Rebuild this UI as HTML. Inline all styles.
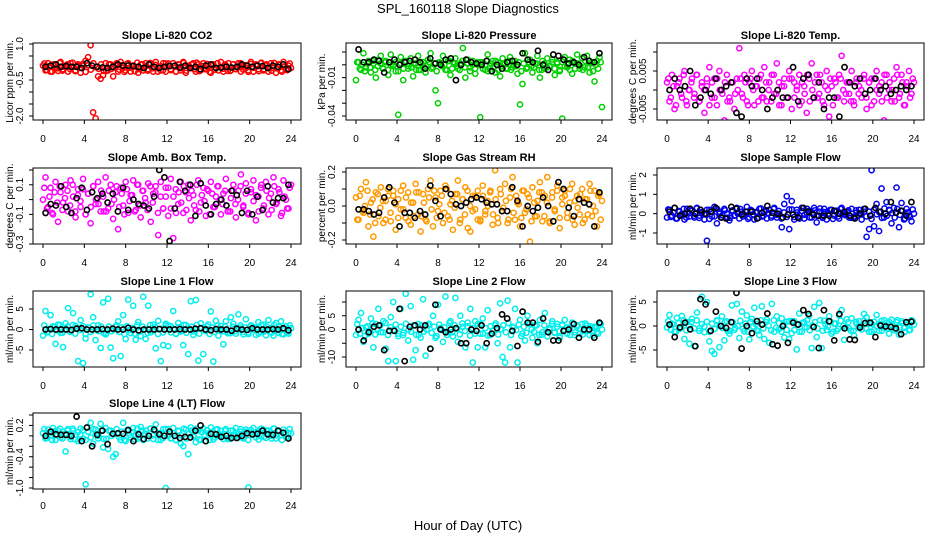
<!DOCTYPE html>
<html><head><meta charset="utf-8"><style>
body{margin:0;background:#fff}
svg{display:block;font-family:"Liberation Sans",sans-serif}
</style></head><body>
<svg id="c" width="936" height="540" viewBox="0 0 936 540" xmlns="http://www.w3.org/2000/svg">
<rect width="936" height="540" fill="#fff"/>
<text x="468" y="13" text-anchor="middle" font-size="13">SPL_160118  Slope Diagnostics</text>
<text x="468" y="530" text-anchor="middle" font-size="13">Hour of Day (UTC)</text>
</svg>
<script>
const xTicks=[0,4,8,12,16,20,24];
const p1c=[0.1,-0.1,0.2,-0.15,0.15,0.0,-0.12,0.25,-0.05,0.1,-0.15,0.2,0.05,-0.1,0.15,-0.2,0.1,0.3,0.45,0.95,-1.85,-2.1,-0.35,-0.45,-0.3,0.2,-0.1,0.15,-0.35,0.1,-0.15,0.25,0.0,-0.1,0.2,-0.15,0.1,0.05,-0.2,0.15,-0.1,0.2,-0.05,0.15,-0.15,0.25,0.0,-0.1,0.2,-0.15,0.1,-0.05,0.2,-0.15,0.15,-0.1,0.25,-0.2,0.1,0.0,0.2,-0.15,0.15,-0.1,0.2,-0.05,0.1,-0.2,0.15,0.0,-0.1,0.25,-0.15,0.1,0.2,-0.1,0.15,-0.05,0.2,-0.15,0.1,0.0,-0.1,0.25,-0.15,0.15,-0.05,0.2,-0.1,0.1,-0.15,0.2,0.0,-0.2,0.15,-0.1,0.25,-0.05,0.1,0.0];
const p1b=[0.19,-0.09,0.07,-0.15,0.13,-0.01,0.21,-0.11,0.05,0.15,-0.05,0.22,-0.13,0.09,0.01,0.17,-0.16,0.11,-0.07,0.2,0.03,-0.03,0.15,-0.12,-0.12,0.15,-0.03,0.03,0.2,-0.07,0.11,-0.16,0.17,0.01,0.09,-0.13,0.22,-0.05,0.15,0.05,-0.11,0.21,-0.01,0.13,-0.15,0.07,-0.09,0.19,0.19,-0.09,0.07,-0.15,0.13,-0.01,0.21,-0.11,0.05,0.15,-0.05,0.22,-0.13,0.09,0.01,0.17,-0.16,0.11,-0.07,0.2,0.03,-0.03,0.15,-0.12,-0.12,0.15,-0.03,0.03,0.2,-0.07,0.11,-0.16,0.17,0.01,0.09,-0.13,0.22,-0.05,0.15,0.05,-0.11,0.21,-0.01,0.13,-0.15,0.07,-0.09,0.19];
const p1k=[0.05,0.1,0.15,0.05,0.08,0.05,0.05,0.0,0.2,0.1,0.05,0.02,0.0,0.05,0.15,0.1,0.1,0.08,0.05,0.0,0.15,0.05,0.0,0.05,0.08,0.1,0.02,0.1,0.0,0.05,-0.05,0.1,0.15,0.0,0.02,0.05,0.02,0.05,0.15,0.1,0.05,0.1,0.08,0.0,0.1,0.05,0.15,-0.05];
const p2c=[-0.012,0.002,-0.004,0.009,-0.002,0.003,-0.006,0.001,-0.01,0.004,0.007,-0.003,0.002,-0.008,0.008,0.0,-0.005,-0.039,0.006,-0.012,0.003,-0.003,0.005,-0.009,0.001,0.007,-0.004,0.002,-0.006,0.004,0.009,-0.002,-0.02,-0.03,0.001,0.007,-0.004,0.003,-0.008,0.002,0.005,-0.003,0.001,0.013,-0.01,0.004,-0.002,0.003,-0.007,0.0,-0.041,0.002,-0.004,0.008,-0.001,0.003,-0.006,0.002,-0.009,0.005,0.001,-0.003,0.006,-0.002,0.003,-0.007,-0.031,-0.015,0.009,-0.002,0.004,-0.006,0.001,0.007,-0.01,0.003,-0.003,0.005,-0.001,0.004,-0.008,0.002,-0.004,-0.042,0.006,-0.002,0.004,-0.007,0.001,0.008,-0.003,0.005,-0.002,0.007,-0.006,0.002,-0.013,0.003,0.006,-0.033];
const p2b=[0.002,-0.003,0.0,-0.005,0.001,-0.002,0.003,-0.004,-0.001,0.001,-0.003,0.003,-0.004,0.0,-0.001,0.002,-0.005,0.001,-0.003,0.002,-0.001,-0.002,0.001,-0.004,-0.004,0.001,-0.002,-0.001,0.002,-0.003,0.001,-0.005,0.002,-0.001,0.0,-0.004,0.003,-0.003,0.001,-0.001,-0.004,0.003,-0.002,0.001,-0.005,0.0,-0.003,0.002,0.002,-0.003,0.0,-0.005,0.001,-0.002,0.003,-0.004,-0.001,0.001,-0.003,0.003,-0.004,0.0,-0.001,0.002,-0.005,0.001,-0.003,0.002,-0.001,-0.002,0.001,-0.004,-0.004,0.001,-0.002,-0.001,0.002,-0.003,0.001,-0.005,0.002,-0.001,0.0,-0.004,0.003,-0.003,0.001,-0.001,-0.004,0.003,-0.002,0.001,-0.005,0.0,-0.003,0.002];
const p2k=[0.012,0.002,0.002,0.004,0.003,-0.006,0.002,0.004,0.0,0.002,0.003,0.004,0.002,-0.003,0.005,0.001,0.0,0.004,0.005,-0.012,0.0,0.004,0.002,0.001,0.0,0.003,-0.005,0.0,-0.003,0.002,0.003,0.0,0.009,0.004,0.002,0.011,0.0,-0.004,0.008,0.007,0.004,0.001,0.002,0.0,0.006,0.003,0.002,0.009];
const p3c=[0.002,-0.003,0.004,-0.005,0.001,0.003,-0.002,0.005,-0.004,0.0,0.003,-0.001,0.004,-0.003,0.002,-0.006,0.001,0.006,-0.002,0.003,-0.004,0.005,0.0,-0.008,0.004,-0.002,0.002,-0.005,0.003,0.011,-0.001,0.004,-0.003,0.002,0.005,-0.004,0.001,0.003,-0.002,0.006,-0.003,0.002,0.004,-0.001,0.007,-0.004,0.001,0.003,-0.002,0.005,-0.005,0.002,0.0,0.004,-0.003,0.001,-0.006,0.003,0.007,-0.002,0.004,-0.001,0.002,-0.004,0.005,-0.007,0.001,0.003,-0.002,0.004,0.009,-0.003,0.002,-0.001,0.005,-0.004,0.003,0.001,-0.002,0.004,-0.005,0.002,0.003,-0.003,0.005,-0.001,0.002,-0.008,0.004,0.0,-0.003,0.003,0.006,-0.002,0.004,-0.004,0.002,0.005,-0.001,0.002];
const p3b=[0.003,-0.002,0.001,-0.004,0.002,-0.001,0.004,-0.003,0.0,0.002,-0.002,0.004,-0.003,0.001,0.0,0.003,-0.004,0.002,-0.002,0.003,0.0,-0.001,0.002,-0.003,-0.003,0.002,-0.001,0.0,0.003,-0.002,0.002,-0.004,0.003,0.0,0.001,-0.003,0.004,-0.002,0.002,0.0,-0.003,0.004,-0.001,0.002,-0.004,0.001,-0.002,0.003,0.003,-0.002,0.001,-0.004,0.002,-0.001,0.004,-0.003,0.0,0.002,-0.002,0.004,-0.003,0.001,0.0,0.003,-0.004,0.002,-0.002,0.003,0.0,-0.001,0.002,-0.003,-0.003,0.002,-0.001,0.0,0.003,-0.002,0.002,-0.004,0.003,0.0,0.001,-0.003,0.004,-0.002,0.002,0.0,-0.003,0.004,-0.001,0.002,-0.004,0.001,-0.002,0.003];
const p3k=[0.0,0.003,0.0,0.001,0.005,-0.004,-0.002,0.0,-0.001,0.003,0.0,0.001,0.002,-0.006,-0.007,0.003,0.001,0.003,0.0,-0.005,-0.002,0.0,-0.002,-0.002,0.006,-0.003,0.003,0.004,-0.002,0.002,-0.005,-0.002,-0.002,-0.007,0.006,0.002,0.001,0.003,-0.001,0.0,0.003,0.0,0.001,-0.001,0.0,0.001,0.0,0.001];
const p4c=[0.0,0.15,-0.05,0.08,-0.1,0.12,-0.15,0.05,-0.02,0.1,-0.08,0.13,0.02,-0.12,0.07,-0.05,0.14,-0.1,0.04,-0.16,0.09,-0.03,0.12,-0.08,0.02,0.15,-0.06,0.1,-0.13,0.05,-0.2,0.08,-0.04,0.12,-0.09,0.03,0.13,-0.07,0.1,-0.12,0.06,-0.02,0.11,-0.15,0.04,0.09,-0.24,0.12,-0.06,0.02,-0.11,0.14,-0.26,0.07,-0.03,0.12,-0.09,0.05,0.1,-0.14,0.03,-0.07,0.13,-0.02,0.08,-0.11,0.06,0.12,-0.05,0.02,0.09,-0.1,0.04,0.14,-0.08,0.01,0.1,-0.12,0.06,0.17,-0.04,0.11,-0.09,0.05,0.13,-0.14,0.02,0.08,-0.06,0.12,-0.1,0.04,0.15,-0.03,0.07,-0.11,0.13,0.0,-0.06,0.1];
const p4b=[0.08,-0.06,0.02,-0.09,0.05,-0.02,0.09,-0.07,0.01,0.06,-0.04,0.1,-0.08,0.03,-0.01,0.07,-0.1,0.04,-0.05,0.09,0.0,-0.03,0.06,-0.08,-0.08,0.06,-0.03,0.0,0.09,-0.05,0.04,-0.1,0.07,-0.01,0.03,-0.08,0.1,-0.04,0.06,0.01,-0.07,0.09,-0.02,0.05,-0.09,0.02,-0.06,0.08,0.08,-0.06,0.02,-0.09,0.05,-0.02,0.09,-0.07,0.01,0.06,-0.04,0.1,-0.08,0.03,-0.01,0.07,-0.1,0.04,-0.05,0.09,0.0,-0.03,0.06,-0.08,-0.08,0.06,-0.03,0.0,0.09,-0.05,0.04,-0.1,0.07,-0.01,0.03,-0.08,0.1,-0.04,0.06,0.01,-0.07,0.09,-0.02,0.05,-0.09,0.02,-0.06,0.08];
const p4k=[-0.09,-0.03,-0.04,0.09,-0.05,-0.09,0.01,0.08,-0.07,0.05,0.01,0.04,-0.02,0.04,-0.08,0.08,-0.07,0.0,-0.03,-0.04,-0.06,0.02,0.2,0.15,-0.28,-0.06,0.12,0.06,0.1,-0.11,0.11,-0.04,-0.1,-0.03,0.0,-0.04,0.06,0.03,-0.09,0.06,-0.1,0.02,-0.07,0.09,-0.02,0.01,0.01,0.1];
const p5c=[0.05,-0.08,0.1,-0.04,0.14,-0.12,0.02,-0.18,0.08,-0.06,0.11,-0.1,0.03,0.06,-0.09,0.09,-0.14,0.04,-0.02,0.12,-0.07,0.08,-0.11,0.02,0.13,-0.05,-0.15,0.07,-0.08,0.1,0.15,-0.12,0.05,-0.03,0.09,-0.1,0.12,-0.06,0.01,-0.14,0.07,0.15,-0.08,0.04,0.11,-0.13,-0.15,0.06,-0.02,0.09,-0.09,0.12,-0.05,0.03,0.08,-0.11,0.21,-0.07,0.1,-0.03,0.13,-0.1,0.05,0.17,-0.08,0.02,-0.12,0.09,-0.04,0.07,-0.21,0.11,-0.06,0.03,0.14,-0.09,0.06,0.17,-0.1,0.08,-0.03,0.12,-0.13,0.05,0.09,-0.07,0.02,0.13,-0.11,0.06,-0.05,0.1,-0.08,0.04,0.13,-0.06,0.09,-0.12,0.07,0.03];
const p5b=[-0.08,0.06,-0.03,0.0,0.09,-0.05,0.04,-0.1,0.07,-0.01,0.03,-0.08,0.1,-0.04,0.06,0.01,-0.07,0.09,-0.02,0.05,-0.09,0.02,-0.06,0.08,0.08,-0.06,0.02,-0.09,0.05,-0.02,0.09,-0.07,0.01,0.06,-0.04,0.1,-0.08,0.03,-0.01,0.07,-0.1,0.04,-0.05,0.09,0.0,-0.03,0.06,-0.08,-0.08,0.06,-0.03,0.0,0.09,-0.05,0.04,-0.1,0.07,-0.01,0.03,-0.08,0.1,-0.04,0.06,0.01,-0.07,0.09,-0.02,0.05,-0.09,0.02,-0.06,0.08,0.08,-0.06,0.02,-0.09,0.05,-0.02,0.09,-0.07,0.01,0.06,-0.04,0.1,-0.08,0.03,-0.01,0.07,-0.1,0.04,-0.05,0.09,0.0,-0.03,0.06,-0.08];
const p5k=[-0.02,-0.02,-0.03,-0.05,-0.04,0.05,0.11,0.02,-0.12,-0.04,-0.04,-0.07,-0.03,-0.05,0.12,0.03,-0.06,0.1,0.07,0.01,0.0,0.02,0.04,0.05,0.04,0.02,0.01,0.01,-0.03,-0.03,0.11,0.03,-0.12,0.0,-0.03,-0.01,0.05,0.0,-0.09,0.14,0.1,-0.01,-0.06,0.04,0.02,0.01,-0.12,0.08];
const p6c=[-0.2,0.2,-0.1,0.3,-0.25,0.1,0.0,-0.3,0.25,-0.15,0.15,-0.2,0.3,-0.1,0.05,-0.3,-1.4,0.2,-0.15,0.35,-0.5,0.1,-0.2,0.25,0.0,-0.35,0.15,-0.1,0.3,-0.25,0.1,-0.05,0.35,-0.2,0.15,-0.3,0.05,0.25,-0.15,0.1,-0.25,0.2,-0.1,0.3,-0.2,0.0,-0.7,0.5,0.9,-0.8,0.65,-0.3,0.2,-0.1,0.3,-0.25,0.05,0.15,-0.2,0.3,-0.45,0.1,-0.15,0.25,-0.3,0.0,0.2,-0.1,0.15,-0.25,0.3,-0.05,0.1,-0.2,0.25,-0.15,0.05,0.2,-0.3,0.1,-1.2,-0.8,2.25,-0.65,0.5,-0.9,1.3,-0.2,0.6,0.2,-0.5,0.3,1.35,-0.7,0.55,-0.3,0.25,-0.1,-0.4,0.0];
const p6b=[0.22,-0.17,0.06,-0.25,0.14,-0.06,0.25,-0.2,0.03,0.17,-0.11,0.27,-0.22,0.08,-0.03,0.2,-0.27,0.11,-0.14,0.24,0.0,-0.08,0.17,-0.21,-0.21,0.17,-0.08,0.0,0.24,-0.14,0.11,-0.27,0.2,-0.03,0.08,-0.22,0.27,-0.11,0.17,0.03,-0.2,0.25,-0.06,0.14,-0.25,0.06,-0.17,0.22,0.22,-0.17,0.06,-0.25,0.14,-0.06,0.25,-0.2,0.03,0.17,-0.11,0.27,-0.22,0.08,-0.03,0.2,-0.27,0.11,-0.14,0.24,0.0,-0.08,0.17,-0.21,-0.21,0.17,-0.08,0.0,0.24,-0.14,0.11,-0.27,0.2,-0.03,0.08,-0.22,0.27,-0.11,0.17,0.03,-0.2,0.25,-0.06,0.14,-0.25,0.06,-0.17,0.22];
const p6k=[0.1,0.3,-0.1,0.0,0.25,0.0,0.2,0.0,0.1,0.3,-0.2,-0.25,0.35,0.25,-0.05,0.1,0.1,-0.25,0.05,0.4,0.05,0.0,-0.2,-0.05,-0.05,-0.2,0.3,0.1,-0.05,-0.1,-0.1,-0.1,0.15,0.0,0.1,-0.1,-0.25,0.0,0.25,-0.1,0.3,0.1,0.0,0.6,0.05,0.15,-0.1,0.6];
const p7c=[-1.5,4.5,-0.5,3.5,0.8,-3.5,1.2,-0.8,-4.3,1.5,5.2,-0.6,4.0,0.9,-7.7,2.3,-8.2,-2.2,0.5,8.6,3.0,-2.6,1.0,-4.5,6.6,-1.2,7.5,-4.4,-7.0,0.7,2.0,-6.5,3.5,-2.3,7.3,-0.9,5.8,-2.5,1.8,-1.6,8.0,-2.3,5.8,-0.7,1.2,-4.6,2.1,-7.7,-3.8,1.4,-4.1,0.8,4.5,-1.0,1.6,-0.5,-3.8,1.1,-6.0,6.9,-1.3,7.2,-7.6,1.5,-6.0,-0.4,1.2,4.4,-7.8,2.1,-1.5,0.9,-3.6,2.0,-0.8,3.0,1.4,-1.0,3.7,0.5,-1.2,2.5,-0.7,1.0,0.6,-1.3,1.8,-0.6,1.2,-1.4,2.3,0.4,-1.5,1.6,-0.8,2.0,-1.2,0.8,-1.0,0.3];
const p7b=[1.0,-0.7,0.2,-1.1,0.6,-0.2,1.1,-0.8,0.1,0.7,-0.5,1.1,-1.0,0.4,-0.1,0.8,-1.1,0.5,-0.6,1.0,0.0,-0.4,0.7,-0.9,-0.9,0.7,-0.4,0.0,1.0,-0.6,0.5,-1.1,0.8,-0.1,0.4,-1.0,1.1,-0.5,0.7,0.1,-0.8,1.1,-0.2,0.6,-1.1,0.2,-0.7,1.0,1.0,-0.7,0.2,-1.1,0.6,-0.2,1.1,-0.8,0.1,0.7,-0.5,1.1,-1.0,0.4,-0.1,0.8,-1.1,0.5,-0.6,1.0,0.0,-0.4,0.7,-0.9,-0.9,0.7,-0.4,0.0,1.0,-0.6,0.5,-1.1,0.8,-0.1,0.4,-1.0,1.1,-0.5,0.7,0.1,-0.8,1.1,-0.2,0.6,-1.1,0.2,-0.7,1.0];
const p7k=[0,0.1,0,0,0,-0.1,0.2,0.3,0,0,0,0.1,0,0.2,0,0,0.4,0,-0.2,0,0,0,0.1,0,0,0,0.1,0,0,0.2,0.3,0,-0.2,0.1,0,0,-0.3,0.2,0,-0.1,0.3,0,0,0,0.1,0,0.3,-0.2];
const p8c=[-2.0,3.5,6.0,-4.5,0.8,-1.5,4.0,-6.5,2.0,7.5,-1.0,3.0,-7.0,-11.5,4.5,10.0,-11.5,-1.5,7.5,-2.0,13.0,-4.0,8.5,-11.0,-7.5,2.0,-3.0,11.0,-9.5,1.5,-7.0,5.0,-3.0,9.0,0.5,-4.5,12.0,-1.0,3.0,-2.5,11.5,-4.5,5.0,1.0,-6.5,2.5,7.5,-12.0,3.0,-6.5,-1.5,4.0,-6.5,7.0,-2.0,-0.5,1.5,-5.0,9.5,-10.0,-12.0,10.5,-6.5,1.0,7.5,-12.0,3.5,-1.5,-4.0,5.0,2.0,-3.0,1.5,-5.0,3.5,-1.0,6.0,-2.5,0.5,3.0,-1.0,2.0,-3.0,1.5,3.5,-1.5,0.5,2.5,-2.0,1.0,-1.5,2.0,-0.5,1.5,-2.0,0.5,1.0,-1.0,2.0,0.0];
const p8b=[2.0,-1.5,0.5,-2.2,1.2,-0.5,2.2,-1.8,0.2,1.5,-1.0,2.4,-2.0,0.8,-0.2,1.8,-2.4,1.0,-1.2,2.1,0.0,-0.8,1.5,-1.9,-1.9,1.5,-0.8,0.0,2.1,-1.2,1.0,-2.4,1.8,-0.2,0.8,-2.0,2.4,-1.0,1.5,0.2,-1.8,2.2,-0.5,1.2,-2.2,0.5,-1.5,2.0,2.0,-1.5,0.5,-2.2,1.2,-0.5,2.2,-1.8,0.2,1.5,-1.0,2.4,-2.0,0.8,-0.2,1.8,-2.4,1.0,-1.2,2.1,0.0,-0.8,1.5,-1.9,-1.9,1.5,-0.8,0.0,2.1,-1.2,1.0,-2.4,1.8,-0.2,0.8,-2.0,2.4,-1.0,1.5,0.2,-1.8,2.2,-0.5,1.2,-2.2,0.5,-1.5,2.0];
const p8k=[0,-4,-1,1,1.5,-7.5,-0.5,-0.5,7.5,-11.5,1,1.5,0,1.5,-7,9,0,-1,0,0.5,-5,-5,0,-0.5,1.5,-5,-1.5,0.5,5.5,4,-0.5,-6,6.5,2.5,2.5,-4.5,4,-1,-4,-4,-0.5,0,2,-3,0,0,-3,2.5];
const p9c=[-0.3,2.3,0.5,-1.2,1.7,-0.6,2.1,-2.7,0.8,-3.7,1.5,-4.2,2.8,-0.5,6.1,-1.3,5.0,-3.2,-5.2,-5.8,1.2,-4.4,2.0,-3.0,1.0,-1.6,4.3,-0.8,4.6,-2.5,3.0,-1.1,2.2,-2.8,1.5,3.8,-0.9,-1.9,4.1,-2.7,1.3,-3.5,4.6,-1.2,2.0,-0.6,1.6,-2.4,0.9,-2.7,-1.5,1.0,-4.9,2.6,-1.2,0.8,-0.3,2.1,-4.6,4.0,-2.3,4.8,-4.6,1.1,-0.8,2.0,-1.6,0.5,-1.0,2.2,3.3,-2.9,1.4,-0.5,1.6,-2.0,0.4,1.0,-0.7,2.5,1.8,-1.2,0.5,-0.8,2.3,-1.0,1.1,-0.3,0.7,-1.6,1.3,-0.5,0.8,-1.8,1.0,-0.4,0.6,-0.9,1.2,0.3];
const p9b=[1.0,-0.8,0.3,-1.2,0.6,-0.3,1.2,-0.9,0.1,0.8,-0.5,1.2,-1.0,0.4,-0.1,0.9,-1.2,0.5,-0.6,1.1,0.0,-0.4,0.8,-1.0,-1.0,0.8,-0.4,0.0,1.1,-0.6,0.5,-1.2,0.9,-0.1,0.4,-1.0,1.2,-0.5,0.8,0.1,-0.9,1.2,-0.3,0.6,-1.2,0.3,-0.8,1.0,1.0,-0.8,0.3,-1.2,0.6,-0.3,1.2,-0.9,0.1,0.8,-0.5,1.2,-1.0,0.4,-0.1,0.9,-1.2,0.5,-0.6,1.1,0.0,-0.4,0.8,-1.0,-1.0,0.8,-0.4,0.0,1.1,-0.6,0.5,-1.2,0.9,-0.1,0.4,-1.0,1.2,-0.5,0.8,0.1,-0.9,1.2,-0.3,0.6,-1.2,0.3,-0.8,1.0];
const p9k=[0.3,-2.3,-0.3,0.7,-0.7,-4.2,5.6,4.5,-1.0,3.0,0,-0.4,0.8,6.9,-4.7,0,-1.5,1.0,0.3,2.6,-3.8,-4.1,0,-3.5,0.7,0.3,3.3,2.5,-0.2,-4.6,3.3,1.0,-3.0,2.5,-0.5,-2.8,-2.9,-0.3,0.6,0.7,-2.3,0.1,-0.1,-0.2,-0.5,-1.7,0.8,0.9];
const p10c=[0.05,-0.05,0.12,0.0,0.15,-0.08,0.1,-0.03,0.08,-0.3,0.13,-0.06,0.1,0.02,-0.1,0.14,-0.05,-0.93,0.08,0.25,-0.15,0.12,-0.05,0.23,-0.22,0.15,-0.25,0.1,-0.4,-0.35,0.05,-0.08,0.25,-0.1,0.12,-0.03,0.15,0.02,-0.05,0.17,-0.08,0.1,0.0,0.14,-0.06,0.22,0.05,-0.08,0.13,-1.0,0.0,-0.05,0.15,-0.08,0.1,-0.15,-0.2,0.12,-0.35,0.16,0.0,-0.12,0.1,-0.08,0.14,-0.1,0.05,0.16,-0.07,0.12,0.0,0.1,-0.06,0.13,-0.04,0.1,0.02,0.15,-0.03,0.08,-0.05,0.12,-0.99,0.06,0.15,-0.03,0.1,0.0,0.12,-0.04,0.1,0.0,0.14,-0.05,0.08,0.02,0.12,-0.03,0.06,0.05];
const p10b=[0.13,-0.04,0.05,-0.08,0.09,0.01,0.14,-0.05,0.04,0.1,-0.02,0.14,-0.07,0.07,0.02,0.11,-0.08,0.08,-0.03,0.13,0.03,0.0,0.1,-0.06,-0.06,0.1,0.0,0.03,0.13,-0.03,0.08,-0.08,0.11,0.02,0.07,-0.07,0.14,-0.02,0.1,0.04,-0.05,0.14,0.01,0.09,-0.08,0.05,-0.04,0.13,0.13,-0.04,0.05,-0.08,0.09,0.01,0.14,-0.05,0.04,0.1,-0.02,0.14,-0.07,0.07,0.02,0.11,-0.08,0.08,-0.03,0.13,0.03,0.0,0.1,-0.06,-0.06,0.1,0.0,0.03,0.13,-0.03,0.08,-0.08,0.11,0.02,0.07,-0.07,0.14,-0.02,0.1,0.04,-0.05,0.14,0.01,0.09,-0.08,0.05,-0.04,0.13];
const p10k=[0.0,0.08,0.03,0.02,0.02,0.0,0.37,-0.1,0.16,-0.2,0.02,0.1,-0.16,0.04,0.05,0.04,0.11,-0.1,0.03,-0.06,0.0,0.12,0.03,0.0,0.08,0.0,-0.04,-0.02,-0.03,0.1,0.2,-0.1,0.04,0.03,-0.02,0.0,-0.04,-0.04,0.0,0.05,0.03,0.04,0.1,0.03,0.02,0.1,0.06,-0.05];

const NS="http://www.w3.org/2000/svg";
const svg=document.getElementById('c');
function el(tag,at,parent,txt){const e=document.createElementNS(NS,tag);for(const k in at)e.setAttribute(k,at[k]);if(txt!==undefined)e.textContent=txt;(parent||svg).appendChild(e);return e;}
const cols=[{x0:43,x1:291,yl:9,tl:19},{x0:356,x1:602,yl:321,tl:331},{x0:667,x1:914,yl:632,tl:642}];
const rows=[{top:43,bot:120,title:35,xl:138},{top:168,bot:244,title:157,xl:262},{top:291,bot:367,title:281,xl:385},{top:413,bot:489,title:403,xl:505}];
const panels=[
 {id:'li820-co2',t:'Slope Li-820 CO2',yl:'Licor ppm per min.',c:0,r:0,v0:1,p0:44,v1:-2,p1:116,ticks:[1,0.5,0,-0.5,-1,-1.5,-2],labs:{'1':'1.0','-0.5':'-0.5','-2':'-2.0'},col:'#ff0000',d:p1c,b:p1b,k:p1k},
 {id:'li820-pressure',t:'Slope Li-820 Pressure',yl:'kPa per min.',c:1,r:0,v0:0.01,p0:52,v1:-0.04,p1:116,ticks:[0.01,0,-0.01,-0.02,-0.03,-0.04],labs:{'-0.01':'-0.01','-0.04':'-0.04'},col:'#00d000',d:p2c,b:p2b,k:p2k},
 {id:'li820-temp',t:'Slope Li-820 Temp.',yl:'degrees C per min.',c:2,r:0,v0:0.01,p0:52,v1:-0.005,p1:109,ticks:[0.01,0.005,0,-0.005],labs:{'0.005':'0.005','-0.005':'-0.005'},col:'#ff00ff',d:p3c,b:p3b,k:p3k},
 {id:'amb-box-temp',t:'Slope Amb. Box Temp.',yl:'degrees C per min.',c:0,r:1,v0:0.2,p0:170,v1:-0.3,p1:244,ticks:[0.2,0.1,0,-0.1,-0.2,-0.3],labs:{'0.1':'0.1','-0.1':'-0.1','-0.3':'-0.3'},col:'#ff00ff',d:p4c,b:p4b,k:p4k},
 {id:'gas-stream-rh',t:'Slope Gas Stream RH',yl:'percent per min.',c:1,r:1,v0:0.2,p0:172,v1:-0.2,p1:240,ticks:[0.2,0.1,0,-0.1,-0.2],labs:{'0.2':'0.2','0':'0.0','-0.2':'-0.2'},col:'#ff9900',d:p5c,b:p5b,k:p5k},
 {id:'sample-flow',t:'Slope Sample Flow',yl:'ml/min per min.',c:2,r:1,v0:2,p0:175,v1:-1,p1:233,ticks:[2,1,0,-1],labs:{'2':'2','1':'1','0':'0','-1':'-1'},col:'#0000ee',d:p6c,b:p6b,k:p6k},
 {id:'line1-flow',t:'Slope Line 1 Flow',yl:'ml/min per min.',c:0,r:2,v0:5,p0:309,v1:-5,p1:350,ticks:[5,0,-5],labs:{'5':'5','0':'0','-5':'-5'},col:'#00eeee',d:p7c,b:p7b,k:p7k},
 {id:'line2-flow',t:'Slope Line 2 Flow',yl:'ml/min per min.',c:1,r:2,v0:10,p0:302,v1:-10,p1:357,ticks:[10,5,0,-5,-10],labs:{'5':'5','0':'0','-10':'-10'},col:'#00eeee',d:p8c,b:p8b,k:p8k},
 {id:'line3-flow',t:'Slope Line 3 Flow',yl:'ml/min per min.',c:2,r:2,v0:5,p0:302,v1:-5,p1:350,ticks:[5,0,-5],labs:{'5':'5','0':'0','-5':'-5'},col:'#00eeee',d:p9c,b:p9b,k:p9k},
 {id:'line4-flow',t:'Slope Line 4 (LT) Flow',yl:'ml/min per min.',c:0,r:3,v0:0.4,p0:415,v1:-1,p1:488,ticks:[0.4,0.2,0,-0.2,-0.4,-0.6,-0.8,-1],labs:{'0.2':'0.2','-0.4':'-0.4','-1':'-1.0'},col:'#00eeee',d:p10c,b:p10b,k:p10k}
];
panels.forEach(p=>{
 const C=cols[p.c],R=rows[p.r];
 const sx=h=>C.x0+(C.x1-C.x0)*h/24;
 const sy=v=>p.p0+(p.p1-p.p0)*(v-p.v0)/(p.v1-p.v0);
 const bl=C.x0-10,br=C.x1+10;
 const g=el('g',{});
 
 
 const t=el('text',{x:(bl+br)/2,y:R.title+4,'text-anchor':'middle','font-size':11,'font-weight':'bold'},g,p.t);
 
 
 const ylab=el('text',{transform:`translate(${C.yl+4},${(R.top+R.bot)/2}) rotate(-90)`,'text-anchor':'middle','font-size':10},g,p.yl);
 
 
 const clip='clip-'+p.id;
 const cp=el('clipPath',{id:clip},g);el('rect',{x:bl,y:R.top,width:br-bl,height:R.bot-R.top},cp);
 const pts=el('g',{'clip-path':`url(#${clip})`,fill:'none'},g);
 
 
 const nb=p.b.length;
 p.b.forEach((v,i)=>{const c=el('circle',{cx:sx((i+0.5)*24/nb),cy:sy(v),r:2.6,stroke:p.col,'stroke-width':1.5},pts);
  
  });
 const n=p.d.length;
 p.d.forEach((v,i)=>{const c=el('circle',{cx:sx(i*24/(n-1)),cy:sy(v),r:2.6,stroke:p.col,'stroke-width':1.5},pts);
  
  });
 p.k.forEach((v,i)=>{const c=el('circle',{cx:sx((i+0.5)*24/p.k.length),cy:sy(v),r:2.6,stroke:'#000','stroke-width':1.6},pts);
  
  });
 el('rect',{x:bl,y:R.top,width:br-bl,height:R.bot-R.top,fill:'none',stroke:'#000','stroke-width':1},g);
 const xa=el('g',{},g);
 
 
 el('line',{x1:sx(0),x2:sx(24),y1:R.bot,y2:R.bot,stroke:'#000'},xa);
 xTicks.forEach(h=>{el('line',{x1:sx(h),x2:sx(h),y1:R.bot,y2:R.bot+4,stroke:'#000'},xa);
  el('text',{x:sx(h),y:R.xl+4,'text-anchor':'middle','font-size':10},xa,String(h));});
 const ya=el('g',{},g);
 
 
 p.ticks.forEach(v=>{el('line',{x1:bl-4,x2:bl,y1:sy(v),y2:sy(v),stroke:'#000'},ya);
  const lab=p.labs[String(v)];
  if(lab!==undefined) el('text',{transform:`translate(${C.tl+4},${sy(v)}) rotate(-90)`,'text-anchor':'middle','font-size':10},ya,lab);});
});
</script>
</body></html>
